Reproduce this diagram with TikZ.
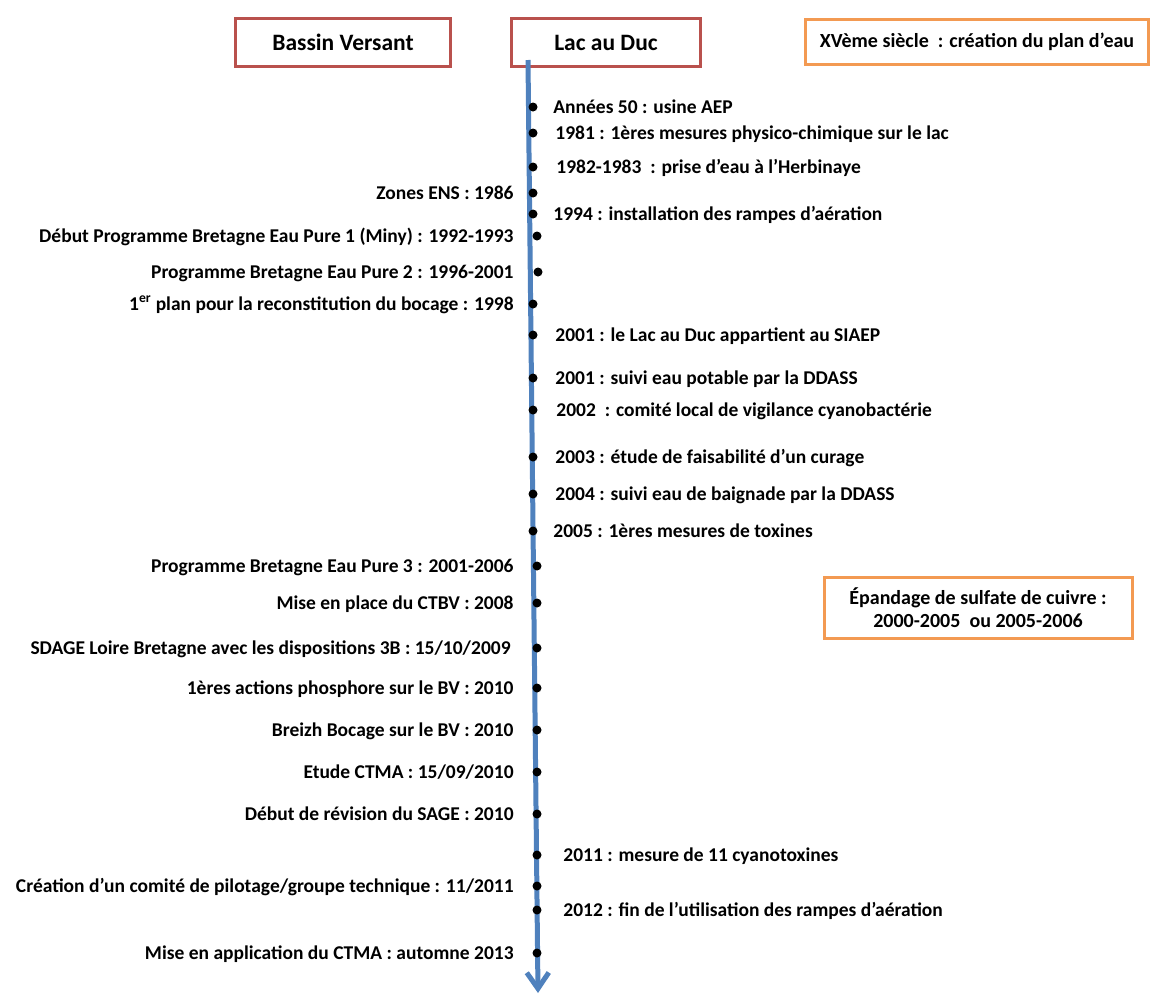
\documentclass[tikz,border=0pt]{standalone}
\usepackage{fontspec}
\setmainfont{Carlito}
\usetikzlibrary{arrows.meta, positioning}

\definecolor{axisblue}{HTML}{4F81BD}
\definecolor{boxred}{HTML}{B9514D}
\definecolor{boxorange}{HTML}{F39A52}

\begin{document}
\begin{tikzpicture}[
  x=1pt, y=-1pt,
  headbox/.style = {draw=boxred, line width=3pt, minimum height=48pt, font=\bfseries\fontsize{23.5}{28}\selectfont},
  notebox/.style = {draw=boxorange, line width=3pt, align=center, font=\bfseries\fontsize{20}{23}\selectfont},
  event/.style = {circle, fill=black, inner sep=0pt, minimum size=9pt},
  evtext/.style = {inner sep=0pt, text height=12.5pt, text depth=0pt, font=\bfseries\fontsize{19.5}{23}\selectfont},
  axis/.style = {draw=axisblue, line width=5pt, -{Straight Barb[length=16pt, width=22pt]}},
  node distance=16pt
]
\useasboundingbox (0,0) rectangle (1152,994);

% ======================================================
% Column headers and notes
% ======================================================
\node[headbox, minimum width=215pt] (bassin) at (343,42.5) {Bassin Versant};
\node[headbox, minimum width=189pt] (lac) at (606,42.5) {Lac au Duc};
\node[notebox, minimum width=343pt, minimum height=45pt] (creation) at (977,42) {XVème siècle~ : création du plan d’eau};
\node[notebox, minimum width=308pt, minimum height=61pt] (epandage) at (978,608) {Épandage de sulfate de cuivre :\\2000-2005~ ou 2005-2006};

% ======================================================
% Time axis
% ======================================================
\coordinate (axis_top) at (528,60);
\coordinate (axis_end) at (538,993);
\draw[axis] (axis_top) -- (axis_end);

% ======================================================
% Events, top to bottom
% ======================================================
\node[event] (usine) at (533,107) {};
\node[evtext, right=15.5pt of usine] (usine_txt) {Années 50 : usine AEP};

\node[event] (mesures) at (533,133) {};
\node[evtext, right=17.5pt of mesures] (mesures_txt) {1981 : 1ères mesures physico-chimique sur le lac};

\node[event] (prise) at (533,167) {};
\node[evtext, right=18.5pt of prise] (prise_txt) {1982-1983~ : prise d’eau à l’Herbinaye};

\node[event] (ens) at (533,193) {};
\node[evtext, left=14.5pt of ens] (ens_txt) {Zones ENS : 1986};

\node[event] (rampes) at (533,214) {};
\node[evtext, right=15.5pt of rampes] (rampes_txt) {1994 : installation des rampes d’aération};

\node[event] (bep1) at (537,236) {};
\node[evtext, left=18.5pt of bep1] (bep1_txt) {Début Programme Bretagne Eau Pure 1 (Miny) : 1992-1993};

\node[event] (bep2) at (538,272) {};
\node[evtext, left=19.5pt of bep2] (bep2_txt) {Programme Bretagne Eau Pure 2 : 1996-2001};

\node[event] (bocage) at (533,304) {};
\node[evtext, left=14.5pt of bocage] (bocage_txt) {1\textsuperscript{er} plan pour la reconstitution du bocage : 1998};

\node[event] (siaep) at (533,335) {};
\node[evtext, right=17.5pt of siaep] (siaep_txt) {2001 : le Lac au Duc appartient au SIAEP};

\node[event] (potable) at (533,378) {};
\node[evtext, right=17.5pt of potable] (potable_txt) {2001 : suivi eau potable par la DDASS};

\node[event] (vigilance) at (533,410) {};
\node[evtext, right=18.5pt of vigilance] (vigilance_txt) {2002~ : comité local de vigilance cyanobactérie};

\node[event] (curage) at (533,457) {};
\node[evtext, right=17.5pt of curage] (curage_txt) {2003 : étude de faisabilité d’un curage};

\node[event] (baignade) at (533,494) {};
\node[evtext, right=17.5pt of baignade] (baignade_txt) {2004 : suivi eau de baignade par la DDASS};

\node[event] (toxines) at (533,531) {};
\node[evtext, right=15.5pt of toxines] (toxines_txt) {2005 : 1ères mesures de toxines};

\node[event] (bep3) at (537,566) {};
\node[evtext, left=18.5pt of bep3] (bep3_txt) {Programme Bretagne Eau Pure 3 : 2001-2006};

\node[event] (ctbv) at (537,603) {};
\node[evtext, left=18.5pt of ctbv] (ctbv_txt) {Mise en place du CTBV : 2008};

\node[event] (sdage) at (537,648) {};
\node[evtext, left=21.5pt of sdage] (sdage_txt) {SDAGE Loire Bretagne avec les dispositions 3B : 15/10/2009};

\node[event] (phosphore) at (537,688) {};
\node[evtext, left=18.5pt of phosphore] (phosphore_txt) {1ères actions phosphore sur le BV : 2010};

\node[event] (breizh) at (537,730) {};
\node[evtext, left=18.5pt of breizh] (breizh_txt) {Breizh Bocage sur le BV : 2010};

\node[event] (ctma) at (537,772) {};
\node[evtext, left=18.5pt of ctma] (ctma_txt) {Etude CTMA : 15/09/2010};

\node[event] (sage) at (537,814) {};
\node[evtext, left=18.5pt of sage] (sage_txt) {Début de révision du SAGE : 2010};

\node[event] (cyano) at (537,855) {};
\node[evtext, right=21.5pt of cyano] (cyano_txt) {2011 : mesure de 11 cyanotoxines};

\node[event] (pilotage) at (537,886) {};
\node[evtext, left=18.5pt of pilotage] (pilotage_txt) {Création d’un comité de pilotage/groupe technique : 11/2011};

\node[event] (fin) at (537,910) {};
\node[evtext, right=21.5pt of fin] (fin_txt) {2012 : fin de l’utilisation des rampes d’aération};

\node[event] (application) at (537,953) {};
\node[evtext, left=18.5pt of application] (application_txt) {Mise en application du CTMA : automne 2013};
\end{tikzpicture}
\end{document}
